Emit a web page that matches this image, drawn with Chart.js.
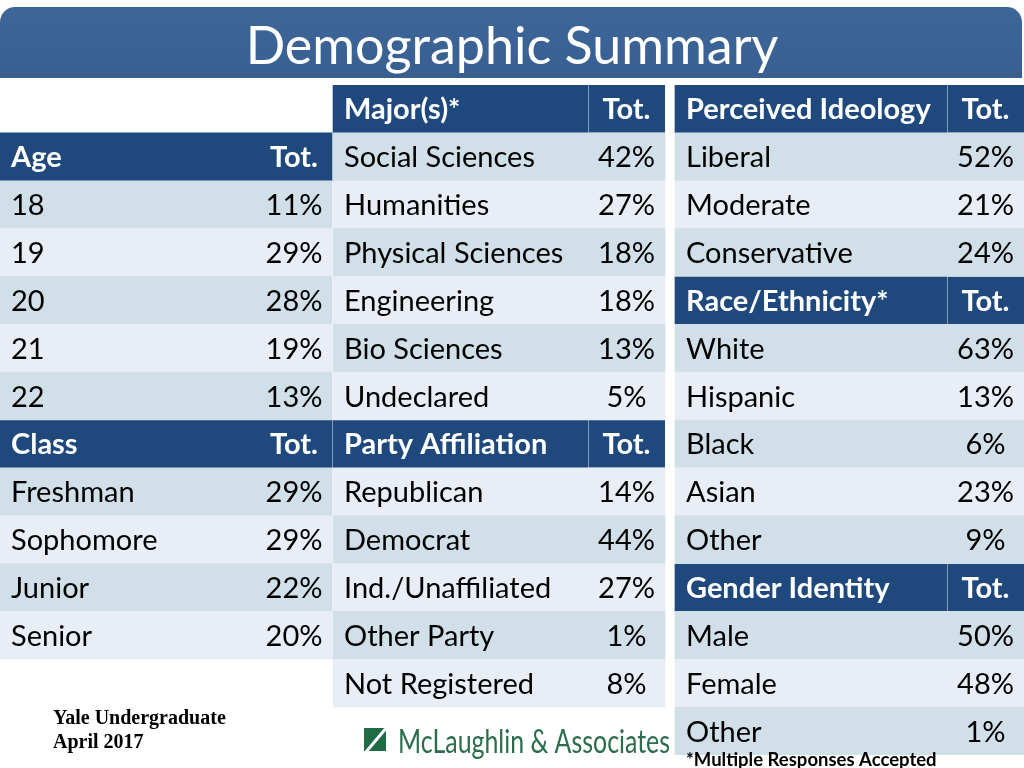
<!DOCTYPE html>
<html><head><meta charset="utf-8">
<script src="https://cdn.jsdelivr.net/npm/chart.js@4.4.0/dist/chart.umd.min.js"></script>
<style>html,body{margin:0;padding:0;background:#fff;overflow:hidden}#wrap{width:1024px;height:768px;position:relative}</style>
</head><body><div id="wrap"><canvas id="c" width="1024" height="768"></canvas></div>
<script>
// ---------- data ----------
const titleText = 'Demographic Summary';
const totHeader = 'Tot.';
const ageTitle = 'Age';
const ageLabels = ['18', '19', '20', '21', '22'];
const ageValues = [11, 29, 28, 19, 13];
const classTitle = 'Class';
const classLabels = ['Freshman', 'Sophomore', 'Junior', 'Senior'];
const classValues = [29, 29, 22, 20];
const majorTitle = 'Major(s)*';
const majorLabels = ['Social Sciences', 'Humanities', 'Physical Sciences', 'Engineering', 'Bio Sciences', 'Undeclared'];
const majorValues = [42, 27, 18, 18, 13, 5];
const partyTitle = 'Party Affiliation';
const partyLabels = ['Republican', 'Democrat', 'Ind./Unaffiliated', 'Other Party', 'Not Registered'];
const partyValues = [14, 44, 27, 1, 8];
const ideologyTitle = 'Perceived Ideology';
const ideologyLabels = ['Liberal', 'Moderate', 'Conservative'];
const ideologyValues = [52, 21, 24];
const raceTitle = 'Race/Ethnicity*';
const raceLabels = ['White', 'Hispanic', 'Black', 'Asian', 'Other'];
const raceValues = [63, 13, 6, 23, 9];
const genderTitle = 'Gender Identity';
const genderLabels = ['Male', 'Female', 'Other'];
const genderValues = [50, 48, 1];
const footnote = '*Multiple Responses Accepted';
const sourceLines = ['Yale Undergraduate', 'April 2017'];
const logoText = 'McLaughlin & Associates';

// ---------- layout / style ----------
const ROWS = 14;
const rowSlots = Array.from({length: ROWS}, (_, i) => 'row' + i);
const HEAD = '#1f497d', DARK = '#d1dfe8', LIGHT = '#e9eef6';
const FONT = 'Lato, "Noto Sans", sans-serif';
const CELL_FONT = 29;
const blocks = [
  {x0: 0, x1: 332, div: null, totC: 294, start: 1, darkParity: 0,
   groups: [[ageTitle, ageLabels, ageValues], [classTitle, classLabels, classValues]]},
  {x0: 333, x1: 665, div: 588, totC: 626.5, start: 0, darkParity: 1,
   groups: [[majorTitle, majorLabels, majorValues], [partyTitle, partyLabels, partyValues]]},
  {x0: 675, x1: 1024, div: 947, totC: 985.5, start: 0, darkParity: 1,
   groups: [[ideologyTitle, ideologyLabels, ideologyValues], [raceTitle, raceLabels, raceValues], [genderTitle, genderLabels, genderValues]]}
];

// build rows
blocks.forEach(b => {
  b.rows = [];
  let r = b.start;
  b.groups.forEach(([t, labs, vals]) => {
    b.rows.push({row: r++, head: true, label: t, value: totHeader});
    labs.forEach((l, i) => b.rows.push({row: r++, head: false, label: l, value: vals[i] + '%'}));
  });
});

const datasets = [];
blocks.forEach(b => {
  const body = new Array(ROWS).fill(null), bodyCol = new Array(ROWS).fill(LIGHT);
  const hl = new Array(ROWS).fill(null), ht = new Array(ROWS).fill(null);
  b.rows.forEach(r => {
    if (r.head) {
      if (b.div) { hl[r.row] = [b.x0, b.div]; ht[r.row] = [b.div, b.x1]; }
      else hl[r.row] = [b.x0, b.x1];
    } else {
      body[r.row] = [b.x0, b.x1];
      bodyCol[r.row] = (r.row % 2 === b.darkParity) ? DARK : LIGHT;
    }
  });
  datasets.push({data: body, backgroundColor: bodyCol, borderWidth: 0});
  datasets.push({data: hl, backgroundColor: HEAD, borderWidth: 0});
  if (b.div) datasets.push({data: ht, backgroundColor: HEAD, borderColor: 'rgba(255,255,255,0.3)',
    borderWidth: {left: 1, top: 0, right: 0, bottom: 0}, borderSkipped: false});
});
datasets.forEach(d => { d.grouped = false; d.barPercentage = 1; d.categoryPercentage = 1; });

const deco = {
  id: 'deco',
  beforeDraw(chart) {
    const ctx = chart.ctx;
    ctx.save();
    ctx.fillStyle = '#fff';
    ctx.fillRect(0, 0, chart.width, chart.height);
    const g = ctx.createLinearGradient(0, 7, 0, 78);
    g.addColorStop(0, '#3d6698'); g.addColorStop(1, '#395f91');
    ctx.fillStyle = g;
    ctx.beginPath();
    ctx.roundRect(0, 7, 1022, 71, [15, 15, 0, 0]);
    ctx.fill();
    ctx.fillStyle = '#fff';
    ctx.font = '52px ' + FONT;
    ctx.textAlign = 'center'; ctx.textBaseline = 'alphabetic';
    ctx.fillText(titleText, 512, 64, 540);
    ctx.restore();
  },
  afterDatasetsDraw(chart) {
    const ctx = chart.ctx, xs = chart.scales.x, ys = chart.scales.y;
    ctx.save();
    ctx.textBaseline = 'alphabetic';
    blocks.forEach(b => {
      b.rows.forEach(r => {
        const y = ys.getPixelForValue(r.row) + CELL_FONT * 0.36;
        ctx.fillStyle = r.head ? '#fff' : '#000';
        ctx.font = (r.head ? 'bold ' : '') + CELL_FONT + 'px ' + FONT;
        ctx.textAlign = 'left';
        ctx.fillText(r.label, xs.getPixelForValue(b.x0 + 11), y);
        ctx.textAlign = 'center';
        ctx.fillText(r.value, xs.getPixelForValue(b.totC), y);
      });
    });
    // footer
    ctx.fillStyle = '#000';
    ctx.textAlign = 'left'; ctx.textBaseline = 'alphabetic';
    ctx.font = 'bold 20px "Liberation Serif", serif';
    ctx.fillText(sourceLines[0], 53, 724);
    ctx.fillText(sourceLines[1], 53, 748);
    ctx.font = 'bold 18.5px ' + FONT;
    ctx.fillText(footnote, 686, 766, 252);
    // logo
    ctx.fillStyle = '#1e6b45';
    ctx.fillRect(364, 728, 22, 23);
    ctx.strokeStyle = '#fff'; ctx.lineWidth = 3;
    ctx.beginPath(); ctx.moveTo(366, 752); ctx.lineTo(387, 727); ctx.stroke();
    ctx.fillStyle = '#2b6d4e';
    ctx.font = '33px ' + FONT;
    ctx.fillText(logoText, 398, 753, 272);
    ctx.restore();
  }
};

new Chart(document.getElementById('c'), {
  type: 'bar',
  data: {labels: rowSlots, datasets},
  options: {
    indexAxis: 'y', responsive: false, animation: false, events: [],
    layout: {padding: {top: 85, bottom: 13, left: 0, right: 0}},
    plugins: {legend: {display: false}, tooltip: {enabled: false}, title: {display: false}},
    scales: {
      x: {type: 'linear', min: 0, max: 1024, display: false},
      y: {type: 'category', display: false, offset: true}
    }
  },
  plugins: [deco]
});
</script></body></html>
